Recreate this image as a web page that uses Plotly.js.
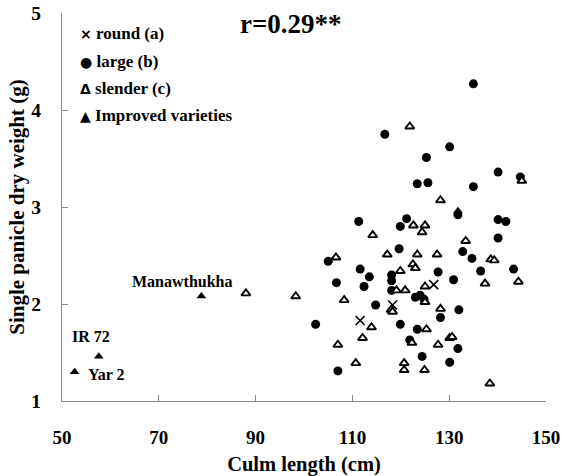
<!DOCTYPE html>
<html>
<head>
<meta charset="utf-8">
<script src="https://cdn.plot.ly/plotly-3.0.1.min.js"></script>
<style>html,body{margin:0;padding:0;background:#fff;}#chart{width:562px;height:476px;}</style>
</head>
<body>
<div id="chart"></div>
<script>
// Culm length (cm) and single panicle dry weight (g)
const roundX = [126.8, 118.3, 111.6];
const roundY = [2.20, 1.99, 1.83];

const largeX = [135.0, 116.7, 130.1, 125.3, 140.1, 144.7, 123.4, 125.6, 135.0, 131.8,
  111.3, 121.2, 119.9, 140.1, 141.7, 140.1, 105.0, 119.65, 132.8, 134.7,
  111.6, 113.5, 106.7, 112.4, 118.1, 118.1, 127.7, 130.9, 136.5, 143.3,
  118.1, 123.0, 124.0, 124.8, 114.8, 128.2, 132.0, 102.4, 119.9, 123.4,
  121.85, 131.8, 124.4, 130.1, 107.0];
const largeY = [4.27, 3.75, 3.62, 3.51, 3.36, 3.31, 3.24, 3.25, 3.21, 2.92,
  2.85, 2.88, 2.80, 2.87, 2.85, 2.68, 2.44, 2.57, 2.54, 2.47,
  2.36, 2.28, 2.22, 2.18, 2.30, 2.24, 2.33, 2.25, 2.34, 2.36,
  2.14, 2.07, 2.09, 2.05, 1.99, 1.86, 1.94, 1.79, 1.79, 1.74,
  1.63, 1.54, 1.46, 1.40, 1.31];

const slenderX = [121.85, 145.0, 128.2, 122.6, 125.0, 124.4, 114.2, 133.4, 106.6, 117.2,
  123.4, 127.5, 138.6, 139.3, 122.5, 123.0, 119.9, 137.4, 144.3, 125.0,
  119.1, 120.9, 125.0, 98.3, 88.0, 108.3, 118.0, 118.3, 128.2, 113.95,
  125.3, 112.1, 107.0, 122.3, 127.7, 130.1, 130.6, 110.7, 120.7, 120.7,
  124.9, 138.4];
const slenderY = [3.83, 3.27, 3.07, 2.81, 2.81, 2.74, 2.71, 2.65, 2.48, 2.51,
  2.51, 2.51, 2.46, 2.45, 2.41, 2.37, 2.34, 2.21, 2.23, 2.18,
  2.14, 2.14, 2.02, 2.08, 2.11, 2.04, 1.94, 1.92, 1.95, 1.76,
  1.74, 1.65, 1.58, 1.60, 1.58, 1.65, 1.66, 1.39, 1.39, 1.32,
  1.32, 1.18];

const improvedX = [78.8, 57.6, 52.6, 131.8];
const improvedY = [2.08, 1.46, 1.30, 2.96];
const improvedNames = ['Manawthukha', 'IR 72', 'Yar 2', ''];

const xTicks = [50, 70, 90, 110, 130, 150];
const yTicks = [1, 2, 3, 4, 5];
const legendLabels = ['round (a)', 'large (b)', 'slender (c)', 'Improved varieties'];
const legendGlyphs = ['\u00d7', '\u25cf', '\u0394', '\u25b2'];
const rText = 'r=0.29**';

const FONT = '"Liberation Serif", "Times New Roman", serif';
const AXC = '#8c8c8c';

const traces = [
  {x: largeX, y: largeY, name: legendLabels[1], type: 'scatter', mode: 'markers',
   marker: {symbol: 'circle', size: 9, color: '#000', line: {width: 0}}},
  {x: slenderX, y: slenderY, name: legendLabels[2], type: 'scatter', mode: 'markers',
   marker: {symbol: 'triangle-up', size: 8, color: '#fff', line: {width: 1.9, color: '#000'}}},
  {x: roundX, y: roundY, name: legendLabels[0], type: 'scatter', mode: 'markers',
   marker: {symbol: 'x-thin-open', size: 9, color: '#000', line: {width: 1.6, color: '#000'}}},
  {x: improvedX, y: improvedY, name: legendLabels[3], type: 'scatter', mode: 'markers',
   marker: {symbol: 'triangle-up', size: 8.5, color: '#000', line: {width: 0}}}
];

// point-label offsets (px) for the named improved varieties
const labelOffsets = [
  {xshift: -19, yshift: 15, xanchor: 'center'},
  {xshift: -8, yshift: 20, xanchor: 'center'},
  {xshift: 11, yshift: -3, xanchor: 'left'}
];

const annotations = [];
improvedNames.forEach((n, i) => {
  if (!n) return;
  annotations.push(Object.assign({
    x: improvedX[i], y: improvedY[i], xref: 'x', yref: 'y', text: n, showarrow: false,
    yanchor: 'middle', font: {family: FONT, size: 16, color: '#000', weight: 'bold'}
  }, labelOffsets[i]));
});
const legendY = [0.948, 0.875, 0.806, 0.737];
legendLabels.forEach((lab, i) => {
  annotations.push({
    xref: 'paper', yref: 'paper', x: 0.034, y: legendY[i], xanchor: 'left', yanchor: 'middle',
    showarrow: false,
    text: '<span style="font-family:DejaVu Sans;font-size:14px">' + legendGlyphs[i] + '</span> ' + lab,
    font: {family: FONT, size: 17, color: '#000', weight: 'bold'}
  });
});
annotations.push({
  xref: 'paper', yref: 'paper', x: 0.474, y: 0.972, xanchor: 'center', yanchor: 'middle',
  showarrow: false, text: rText,
  font: {family: FONT, size: 27, color: '#000', weight: 'bold'}
});

const layout = {
  width: 562, height: 476,
  margin: {l: 62, r: 16, t: 13, b: 75},
  paper_bgcolor: '#fff', plot_bgcolor: '#fff',
  showlegend: false,
  font: {family: FONT, color: '#000'},
  xaxis: {
    range: [50, 150], tickvals: xTicks, ticktext: xTicks.map(String),
    showgrid: false, zeroline: false, showline: true, linecolor: AXC, linewidth: 1,
    ticks: 'inside', ticklen: 6, tickcolor: AXC, tickwidth: 1,
    ticklabelstandoff: 19, ticklabeloverflow: 'allow',
    tickfont: {family: FONT, size: 19, color: '#000', weight: 'bold'},
    title: {text: 'Culm length (cm)', standoff: 12, font: {family: FONT, size: 20.5, color: '#000', weight: 'bold'}},
    automargin: false
  },
  yaxis: {
    range: [1, 5], tickvals: yTicks, ticktext: yTicks.map(String),
    showgrid: false, zeroline: false, showline: true, linecolor: AXC, linewidth: 1,
    ticks: 'inside', ticklen: 6, tickcolor: AXC, tickwidth: 1,
    ticklabelstandoff: 16, ticklabeloverflow: 'allow',
    tickfont: {family: FONT, size: 19.5, color: '#000', weight: 'bold'},
    title: {text: 'Single panicle dry weight (g)', standoff: 0, font: {family: FONT, size: 21, color: '#000', weight: 'bold'}},
    automargin: false
  },
  annotations: annotations
};

Plotly.newPlot('chart', traces, layout, {displayModeBar: false, staticPlot: true});
</script>
</body>
</html>
